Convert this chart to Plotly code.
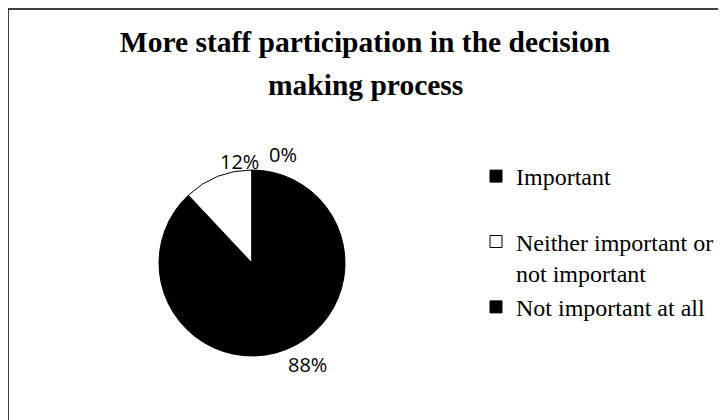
import math
import plotly.graph_objects as go

labels = ["Important", "Neither important or<br>not important", "Not important at all"]
values = [88, 12, 0]
colors = ["#000000", "#ffffff", "#000000"]
title_line1 = "More staff participation in the decision"
title_line2 = "making process"

# page has an 8px body margin, so the figure is drawn 8px smaller
W, H = 718, 412
cx, cy, r = 244, 255, 93
pct_size = 20

fig = go.Figure(go.Pie(
    labels=["Important<br> ", labels[1], labels[2]],
    values=values,
    sort=False,
    direction="clockwise",
    rotation=0,
    marker=dict(colors=colors, line=dict(color="#000000", width=1)),
    textinfo="none",
    domain=dict(x=[(cx - r) / W, (cx + r) / W], y=[(H - cy - r) / H, (H - cy + r) / H]),
    showlegend=True,
    hoverinfo="label+percent",
))

# percentage labels placed at the outer end of each slice (Excel "outside end" style)
annotations = []
total = float(sum(values))
cum = 0.0
placed = []
for v in values:
    mid = (cum + v / 2.0) / total * 2 * math.pi
    cum += v
    px = cx + r * math.sin(mid)
    py = cy - r * math.cos(mid)
    txt = f"{v / total:.0%}"
    wlab = 0.62 * pct_size * len(txt)
    hlab = 1.3 * pct_size
    top_half = math.cos(mid) > 0
    y0 = py - hlab if top_half else py
    x0 = px
    for (a0, a1, b0, b1) in placed:
        if x0 < a1 and x0 + wlab > a0 and y0 < b1 and y0 + hlab > b0:
            x0 = a1 + 12
    placed.append((x0, x0 + wlab, y0, y0 + hlab))
    annotations.append(dict(
        text=txt, xref="paper", yref="paper", x=x0 / W, y=1 - py / H,
        xanchor="left", yanchor="bottom" if top_half else "top",
        showarrow=False, font=dict(family="Open Sans", size=pct_size, color="#000000"),
    ))

annotations.append(dict(
    text="<b>" + title_line2 + "</b>", xref="paper", yref="paper",
    x=357 / W, xanchor="center", y=1 - 77 / H, yanchor="middle",
    showarrow=False, font=dict(family="Liberation Serif", size=29.5, color="#000000"),
))

fig.update_layout(
    width=W, height=H,
    margin=dict(l=0, r=0, t=0, b=0),
    paper_bgcolor="white",
    plot_bgcolor="white",
    title=dict(
        text="<b>" + title_line1 + "</b>",
        font=dict(family="Liberation Serif", size=29.5, color="#000000"),
        x=357 / W, xanchor="center", y=1 - 34 / H, yanchor="middle",
    ),
    annotations=annotations,
    legend=dict(
        x=468 / W, xanchor="left", y=1 - 146 / H, yanchor="top",
        font=dict(family="Liberation Serif", size=24, color="#000000"),
        valign="top",
        bgcolor="rgba(0,0,0,0)",
    ),
    shapes=[dict(type="rect", xref="paper", yref="paper",
                 x0=0, x1=1.05, y0=-0.05, y1=1 - 1 / H,
                 line=dict(color="#000000", width=1.5), fillcolor="rgba(0,0,0,0)")],
)

fig.write_html("out.html")
